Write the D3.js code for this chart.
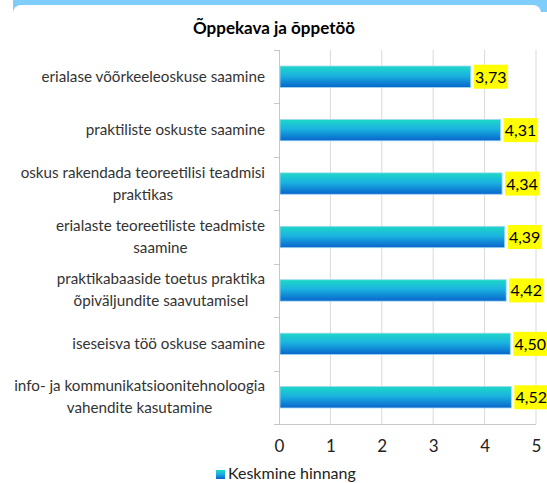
<!DOCTYPE html>
<html lang="et">
<head>
  <meta charset="UTF-8">
  <title>Õppekava ja õppetöö</title>
  <style>
    body { margin: 0; background: #fff; }
    svg text { font-family: Lato, "Open Sans", sans-serif; }
  </style>
</head>
<body>
  <script src="https://cdn.jsdelivr.net/npm/d3@7"></script>
  <script>
    const categories = [
      ["erialase võõrkeeleoskuse saamine"],
      ["praktiliste oskuste saamine"],
      ["oskus rakendada teoreetilisi teadmisi", "praktikas"],
      ["erialaste teoreetiliste teadmiste", "saamine"],
      ["praktikabaaside toetus praktika", "õpiväljundite saavutamisel"],
      ["iseseisva töö oskuse saamine"],
      ["info- ja kommunikatsioonitehnoloogia", "vahendite kasutamine"]
    ];
    const values = [3.73, 4.31, 4.34, 4.39, 4.42, 4.50, 4.52];
    const xTicks = [0, 1, 2, 3, 4, 5];
    const seriesName = "Keskmine hinnang";
    const title = "Õppekava ja õppetöö";

    const width = 547;
    const height = 483;
    const plotLeft = 279, plotRight = 536, plotTop = 50, plotBottom = 424;

    const svg = d3.select("body").append("svg")
      .attr("width", width).attr("height", height);

    // frame at top
    svg.append("rect").attr("x", 13).attr("y", 0).attr("width", width - 13).attr("height", 12)
      .attr("fill", "#7fcdfb");
    svg.append("rect").attr("x", 13).attr("y", 5).attr("width", 528).attr("height", 490)
      .attr("rx", 8).attr("fill", "#fff");

    const defs = svg.append("defs");
    const grad = defs.append("linearGradient").attr("id", "barGrad")
      .attr("x1", 0).attr("y1", 0).attr("x2", 0).attr("y2", 1);
    grad.append("stop").attr("offset", "0%").attr("stop-color", "#1ed8c6");
    grad.append("stop").attr("offset", "45%").attr("stop-color", "#1ab2e0");
    grad.append("stop").attr("offset", "100%").attr("stop-color", "#0864cc");

    const x = d3.scaleLinear().domain([0, 5]).range([plotLeft, plotRight]);
    const y = d3.scaleBand().domain(d3.range(categories.length)).range([plotTop, plotBottom])
      .paddingInner(0.6).paddingOuter(0.3);
    const yb = d3.scaleBand().domain(d3.range(categories.length)).range([plotTop, plotBottom]);

    // gridlines
    svg.append("g").selectAll("line").data(xTicks.slice(1)).join("line")
      .attr("x1", d => x(d)).attr("x2", d => x(d))
      .attr("y1", plotTop).attr("y2", plotBottom)
      .attr("stroke", "#d9d9d9").attr("stroke-width", 1);

    // x axis
    const axisX = d3.axisBottom(x).tickValues(xTicks).tickSize(0).tickPadding(16)
      .tickFormat(d => d);
    const gx = svg.append("g").attr("transform", "translate(0," + plotBottom + ")").call(axisX);
    gx.select(".domain").remove();
    gx.selectAll("text").attr("font-size", 17).attr("fill", "#222")
      .style("font-family", "Lato, sans-serif");
    svg.append("line").attr("x1", plotLeft - 5).attr("x2", plotRight)
      .attr("y1", plotBottom + 0.5).attr("y2", plotBottom + 0.5)
      .attr("stroke", "#c8c8c8");

    // y axis line and ticks at band edges
    svg.append("line").attr("x1", plotLeft + 0.5).attr("x2", plotLeft + 0.5)
      .attr("y1", plotTop).attr("y2", plotBottom)
      .attr("stroke", "#c8c8c8");
    svg.append("g").selectAll("line").data(d3.range(categories.length)).join("line")
      .attr("x1", plotLeft - 5).attr("x2", plotLeft)
      .attr("y1", d => Math.round(yb(d)) + 0.5).attr("y2", d => Math.round(yb(d)) + 0.5)
      .attr("stroke", "#c8c8c8");

    // bars
    svg.append("g").selectAll("rect").data(values).join("rect")
      .attr("x", x(0) + 1)
      .attr("y", (d, i) => y(i))
      .attr("width", d => x(d) - x(0) - 1)
      .attr("height", y.bandwidth())
      .attr("fill", "url(#barGrad)")
      .attr("stroke", "#9fd6f0").attr("stroke-width", 0.8);

    // value labels
    const lab = svg.append("g").selectAll("g").data(values).join("g")
      .attr("transform", (d, i) => "translate(" + (x(d) + 3) + "," + (y(i) + y.bandwidth() / 2) + ")");
    lab.append("rect").attr("x", 0).attr("y", -12).attr("width", 34).attr("height", 24)
      .attr("fill", "#ffff00");
    lab.append("text").attr("x", 17).attr("y", 6).attr("text-anchor", "middle")
      .attr("font-size", 16).attr("fill", "#000")
      .text(d => d3.format(".2f")(d).replace(".", ","));

    // category labels
    const labelRight = 265;
    const catG = svg.append("g").selectAll("text").data(categories).join("text")
      .attr("font-size", 15.2).attr("fill", "#333").attr("text-anchor", "middle");
    catG.each(function(lines, i) {
      const t = d3.select(this);
      const cy = yb(i) + yb.bandwidth() / 2;
      const lh = 22;
      lines.forEach((s, k) => {
        t.append("tspan").attr("y", cy + 5 + (k - (lines.length - 1) / 2) * lh).text(s);
      });
      let maxW = 0;
      t.selectAll("tspan").each(function() { maxW = Math.max(maxW, this.getComputedTextLength()); });
      t.selectAll("tspan").attr("x", labelRight - maxW / 2);
    });

    // title
    svg.append("text").attr("x", 274).attr("y", 34).attr("text-anchor", "middle")
      .attr("font-size", 17).attr("font-weight", "bold").attr("fill", "#000").text(title);

    // legend
    svg.append("rect").attr("x", 216).attr("y", 470).attr("width", 9).attr("height", 9)
      .attr("fill", "url(#barGrad)");
    svg.append("text").attr("x", 228).attr("y", 479).attr("font-size", 16).attr("fill", "#222")
      .text(seriesName);
  </script>
</body>
</html>
